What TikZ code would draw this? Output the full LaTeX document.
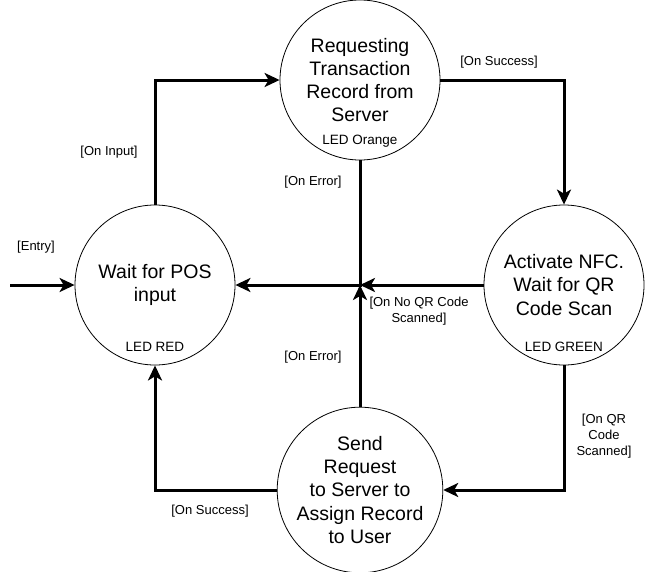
\documentclass[tikz,border=0pt]{standalone}
\usepackage{fontspec}
\setmainfont{Liberation Sans}
\usetikzlibrary{calc,arrows.meta}

\begin{document}
\begin{tikzpicture}[x=1pt,y=-1pt,
        state/.style={draw,circle,line width=.8pt,minimum size=160pt,inner sep=0pt,align=center,
          font=\fontsize{19.5}{23.3}\selectfont},
        ledtext/.style={font=\fontsize{13.5}{16}\selectfont,inner sep=0pt},
        cond/.style={font=\fontsize{13}{16.3}\selectfont,align=center,inner sep=0pt},
        arr/.style={line width=3pt,-{Stealth[length=15pt,width=14pt,inset=4pt]}}]

  %%%% Fix the size of the page %%%%
  \useasboundingbox (0,0) rectangle (646,571);

  %% The four states
  \node[state] (top) at (360,80) {Requesting\\Transaction\\Record from\\Server};
  \node[state] (left) at (155,285) {Wait for POS\\input};
  \node[state] (right) at (564,285) {Activate NFC.\\Wait for QR\\Code Scan};
  \node[state] (bottom) at (360,490) {Send\\Request\\to Server to\\Assign Record\\to User};

  %% LED colour under each state
  \foreach \st/\led in {top/LED Orange,left/LED RED,right/LED GREEN}{
    \node[ledtext,yshift=-61.5pt] (led-\st) at (\st.center) {\led};
  }

  %% Coordinates for the free end and the crossing
  \coordinate (entry) at (10,285);
  \coordinate (junc) at (top.south |- left.east);

  %% Transitions
  \draw[arr] (entry) -- (left.west);
  \draw[arr] (left.north) |- (top.west);
  \draw[arr] (top.east) -| (right.north);
  \draw[arr] (top.south) |- (left.east);
  \draw[arr] (right.west) -- (junc);
  \draw[arr] (bottom.north) -- (junc);
  \draw[arr] (right.south) |- (bottom.east);
  \draw[arr] (bottom.west) -| (left.south);

  %% Text on the transitions
  \foreach \name/\x/\y/\txt in {cEntry/36/247/{[Entry]},
                                cInput/109/152/{[On Input]},
                                cSuccessTop/499/62/{[On Success]},
                                cErrorTop/313/182/{[On Error]},
                                cNoQR/419/311/{[On No QR Code\\Scanned]},
                                cErrorBot/313/357/{[On Error]},
                                cQR/604/436/{[On QR\\Code\\Scanned]},
                                cSuccessBot/210/511/{[On Success]}}{
    \node[cond] (\name) at (\x,\y) {\txt};
  }

\end{tikzpicture}
\end{document}
